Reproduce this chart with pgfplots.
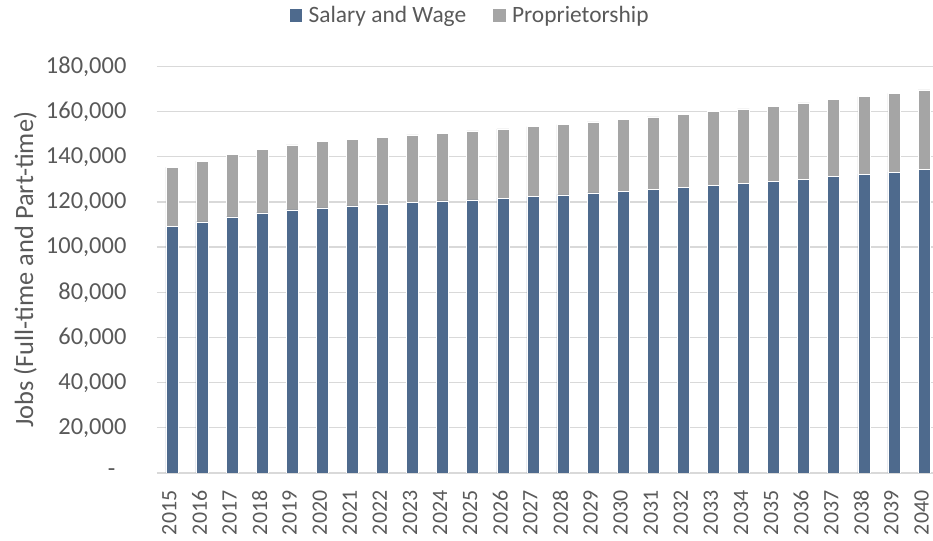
\documentclass[border=0pt]{standalone}
\usepackage{fontspec}
\setmainfont{Carlito}
\usepackage{pgfplots}
\pgfplotsset{compat=1.18}
\usepackage{pgfplotstable}
\definecolor{salary}{HTML}{4E6A8D}
\definecolor{prop}{HTML}{A5A5A5}
\definecolor{txt}{HTML}{595959}
\definecolor{gridc}{HTML}{D9D9D9}

\pgfplotstableread{
x year salary prop
0 2015 109140 26310
1 2016 111170 26930
2 2017 113380 27550
3 2018 115150 28250
4 2019 116470 28870
5 2020 117350 29320
6 2021 118230 29450
7 2022 118980 29590
8 2023 119730 30030
9 2024 120440 30020
10 2025 120880 30640
11 2026 121760 30640
12 2027 122520 30900
13 2028 123100 31200
14 2029 123980 31510
15 2030 124860 31790
16 2031 125740 31960
17 2032 126620 32230
18 2033 127500 32670
19 2034 128380 32850
20 2035 129270 33120
21 2036 130150 33720
22 2037 131340 34000
23 2038 132370 34300
24 2039 133250 34880
25 2040 134430 35180
}\datatable

\begin{document}
\begin{tikzpicture}
\begin{axis}[
  scale only axis,
  width=778.7pt, height=407.8pt,
  ybar stacked,
  bar width=12pt,
  xmin=-0.5, xmax=25.3,
  ymin=0, ymax=180000,
  enlarge x limits=false,
  scaled y ticks=false,
  xtick={0,...,25},
  xticklabels={2015,2016,2017,2018,2019,2020,2021,2022,2023,2024,2025,2026,2027,2028,2029,2030,2031,2032,2033,2034,2035,2036,2037,2038,2039,2040},
  ytick={0,20000,40000,60000,80000,100000,120000,140000,160000,180000},
  yticklabels={{-\hspace*{11pt}},{20,000},{40,000},{60,000},{80,000},{100,000},{120,000},{140,000},{160,000},{180,000}},
  major tick length=0pt,
  axis line style={draw=none},
  ymajorgrids,
  grid style={draw=gridc, line width=1.3pt},
  tick label style={text=txt},
  yticklabel style={font=\fontsize{24.5}{29}\selectfont},
  xticklabel style={rotate=90, anchor=east, inner sep=0pt, yshift=2.5pt, font=\fontsize{22}{26}\selectfont},
  xticklabel shift=17.5pt,
  yticklabel shift=27pt,
  /pgf/number format/assume math mode=true,
  ylabel={Jobs (Full-time and Part-time)},
  ylabel style={at={(rel axis cs:-0.1695,0.5)}, anchor=center, font=\fontsize{26.5}{30}\selectfont, text=txt},
  legend columns=2,
  legend style={at={(rel axis cs:0.403,1.127)}, anchor=center, draw=none, fill=none,
    font=\fontsize{23.5}{28}\selectfont, text=txt,
    /tikz/every odd column/.append style={column sep=4pt},
    /tikz/every even column/.append style={column sep=24pt}},
  legend image code/.code={\fill[#1] (0pt,-7pt) rectangle (13.5pt,6.5pt);},
]
\addplot[fill=salary, draw=white, line width=0.5pt] table[x=x, y=salary] {\datatable};
\addlegendentry{Salary and Wage}
\addplot[fill=prop, draw=white, line width=0.5pt] table[x=x, y=prop] {\datatable};
\addlegendentry{Proprietorship}
\path (rel axis cs:0,0) coordinate (bl);
\path (rel axis cs:1,1) coordinate (tr);
\end{axis}
\pgfresetboundingbox
\path ([xshift=-157.3pt,yshift=-67.5pt]bl) rectangle ([yshift=66.7pt]tr);
\end{tikzpicture}
\end{document}
